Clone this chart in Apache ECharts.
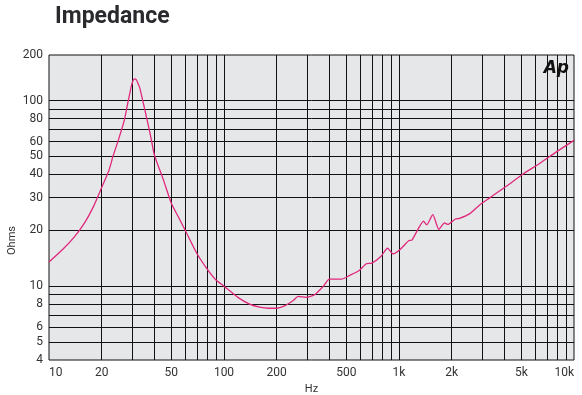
<!DOCTYPE html>
<html><head><meta charset="utf-8">
<script src="https://cdn.jsdelivr.net/npm/echarts@6/dist/echarts.min.js"></script>
<style>html,body{margin:0;padding:0;background:#fff}#c{width:582px;height:395px}</style>
</head><body><div id="c"></div>
<script>
// Impedance curve (Hz, Ohms)
const freqHz = [10, 12, 14, 16, 18, 20, 22, 23.2, 25, 27, 28, 29, 29.5, 30, 30.5, 31, 31.5, 32, 33, 34, 36, 38, 40, 45, 50, 55, 60, 70, 80, 90, 100, 120, 140, 160, 180, 200, 220, 250, 265, 295, 330, 370, 400, 470, 520, 590, 650, 700, 790, 860, 925, 1010, 1140, 1185, 1285, 1380, 1440, 1560, 1690, 1820, 1900, 2100, 2220, 2540, 2880, 3300, 4100, 5070, 6350, 7930, 10000];
const impedanceOhms = [13.5, 15.8, 18.5, 22, 27, 34, 42, 50, 62, 79, 94, 110, 119, 126, 130, 131, 129.5, 126, 117, 104, 82, 65, 51, 37.5, 28, 23.5, 20, 15, 12.4, 10.8, 10, 8.7, 8.0, 7.7, 7.6, 7.6, 7.8, 8.4, 8.8, 8.7, 9.0, 10.0, 10.9, 10.9, 11.4, 12.1, 13.2, 13.3, 14.5, 16.0, 14.9, 15.7, 17.6, 17.7, 20.3, 22.4, 21.4, 24.3, 20.2, 21.9, 21.5, 23.0, 23.2, 24.6, 27.3, 29.9, 34.5, 40, 45.8, 52.9, 61];

// Axis ticks
const xGridTicks = [20, 30, 40, 50, 60, 70, 80, 90, 100, 200, 300, 400, 500, 600, 700, 800, 900, 1000, 2000, 3000, 4000, 5000, 6000, 7000, 8000, 9000];
const xLabelTicks = [10, 20, 50, 100, 200, 500, 1000, 2000, 5000, 10000];
const yGridTicks = [5, 6, 7, 8, 9, 10, 20, 30, 40, 50, 60, 70, 80, 90, 100];
const yLabelTicks = [4, 5, 6, 8, 10, 20, 30, 40, 50, 60, 80, 100];
const yMin = 4, yMax = 176, yTopLabel = '200';
const xMin = 10, xMax = 10000;

const chart = echarts.init(document.getElementById('c'), null, {renderer: 'canvas'});
const fmtHz = v => v >= 1000 ? (Math.round(v / 1000) + 'k') : String(Math.round(v));
const labelFont = {color: '#333', fontSize: 12, fontFamily: 'Roboto, "Open Sans", sans-serif'};

chart.setOption({
  animation: false,
  backgroundColor: '#fff',
  title: [
    {text: 'Impedance', left: 50, top: 1,
     textStyle: {fontFamily: 'Roboto, sans-serif', fontWeight: 'bold', fontSize: 23, color: '#2a2a2e'}},
    {text: 'Ap', right: 8, top: 55,
     textStyle: {fontFamily: '"DejaVu Sans", sans-serif', fontWeight: 'bold', fontStyle: 'italic', fontSize: 17, color: '#111'}}
  ],
  graphic: [{
    type: 'text', left: 7, top: 226, rotation: Math.PI / 2,
    style: {text: 'Ohms', fill: '#333', font: '11px Roboto, sans-serif'}
  }],
  grid: {left: 49, right: 8, top: 55, bottom: 35, outerBoundsMode: 'none', containLabel: false,
         show: true, backgroundColor: '#e6e7e9', borderColor: '#111', borderWidth: 1},
  xAxis: {
    type: 'log', logBase: 10, min: xMin, max: xMax,
    name: 'Hz', nameLocation: 'middle', nameGap: 24,
    nameTextStyle: {color: '#333', fontSize: 11, fontFamily: 'Roboto, sans-serif'},
    axisLine: {show: false},
    axisTick: {show: false, customValues: xGridTicks},
    axisLabel: {customValues: xLabelTicks, formatter: fmtHz, margin: 7, alignMinLabel: 'left', alignMaxLabel: 'right', ...labelFont},
    splitLine: {show: true, lineStyle: {color: '#111', width: 1}},
    minorTick: {show: false}, minorSplitLine: {show: false}
  },
  yAxis: {
    type: 'log', logBase: 10, min: yMin, max: yMax,
    axisLine: {show: false},
    axisTick: {show: false, customValues: yGridTicks},
    axisLabel: {customValues: yLabelTicks.concat([yMax]), formatter: v => (Math.abs(v - yMax) < 1e-6 ? yTopLabel : String(Math.round(v))), margin: 6, ...labelFont},
    splitLine: {show: true, lineStyle: {color: '#111', width: 1}}
  },
  series: [{
    type: 'line', showSymbol: false, smooth: 0.2,
    data: freqHz.map((f, i) => [f, impedanceOhms[i]]),
    lineStyle: {color: '#e0287c', width: 1.3},
    itemStyle: {color: '#e0287c'}
  }]
});
</script></body></html>
